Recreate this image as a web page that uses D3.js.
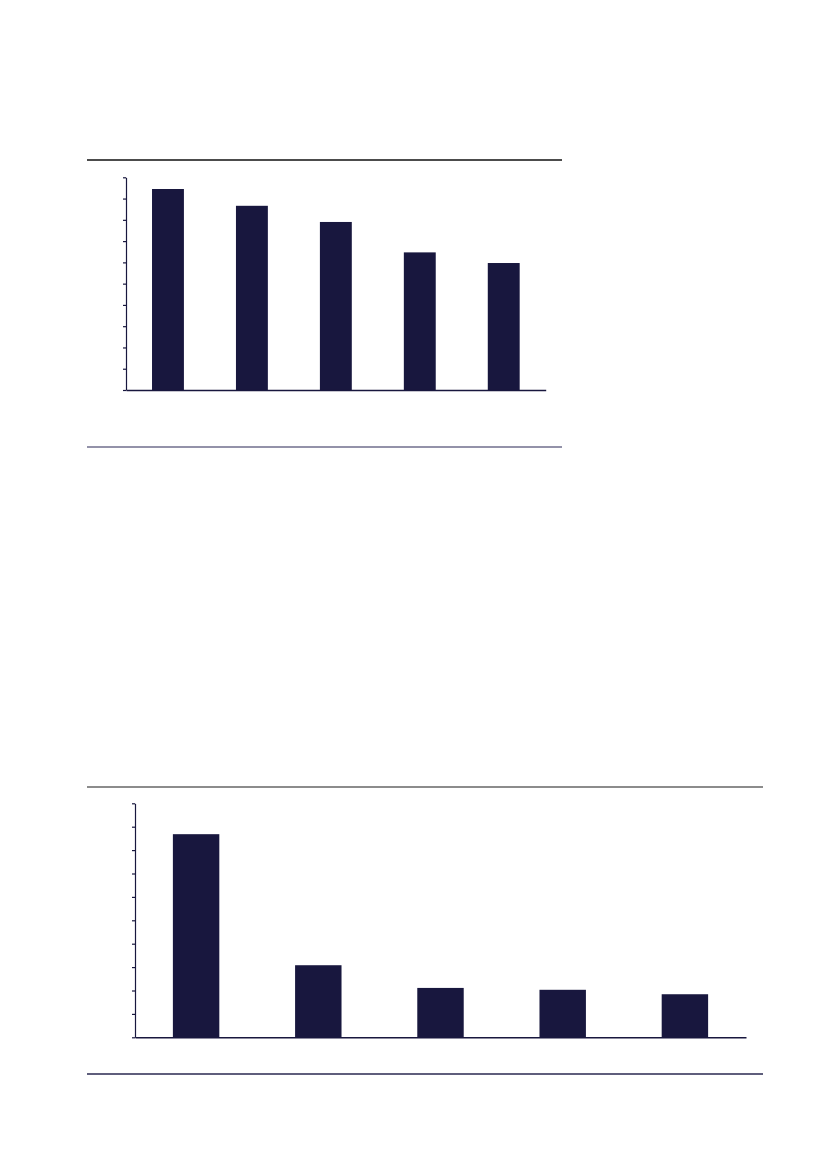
<!DOCTYPE html>
<html>
<head>
<meta charset="utf-8">
<script src="https://cdn.jsdelivr.net/npm/d3@7"></script>
<style>
html,body{margin:0;padding:0;background:#fff;}
svg{display:block;}
</style>
</head>
<body>
<svg id="c" width="827" height="1169"></svg>
<script>
// Top chart data (values in tick units, axis 0-10)
const topCategories = ["A", "B", "C", "D", "E"];
const topValues = [9.45, 8.66, 7.9, 6.47, 5.97];
// Bottom chart data
const bottomCategories = ["A", "B", "C", "D", "E"];
const bottomValues = [8.68, 3.08, 2.11, 2.03, 1.84];
const yTicks = [0, 1, 2, 3, 4, 5, 6, 7, 8, 9, 10];

const svg = d3.select("#c");
const barColor = "#18173e";

function drawChart(cfg) {
  const g = svg.append("g");
  // rules
  g.append("line").attr("x1", cfg.ruleX0).attr("x2", cfg.ruleX1)
    .attr("y1", cfg.ruleTop).attr("y2", cfg.ruleTop)
    .attr("stroke", cfg.ruleTopColor).attr("stroke-width", 1.3);
  g.append("line").attr("x1", cfg.ruleX0).attr("x2", cfg.ruleX1)
    .attr("y1", cfg.ruleBottom).attr("y2", cfg.ruleBottom)
    .attr("stroke", cfg.ruleBottomColor).attr("stroke-width", 1.3);

  const x = d3.scaleBand().domain(cfg.categories)
    .range([cfg.left, cfg.right]).paddingInner(0.62).paddingOuter(0.31);
  const y = d3.scaleLinear().domain([0, 10]).range([cfg.bottom, cfg.top]);

  g.selectAll("rect.bar").data(cfg.values).enter().append("rect")
    .attr("class", "bar")
    .attr("x", (d, i) => x(cfg.categories[i]))
    .attr("width", x.bandwidth())
    .attr("y", d => y(d))
    .attr("height", d => y(0) - y(d))
    .attr("fill", barColor);

  const yAxis = d3.axisLeft(y).tickValues(yTicks).tickFormat("").tickSizeInner(3).tickSizeOuter(0);
  const ya = g.append("g").attr("transform", `translate(${cfg.left},0)`).call(yAxis);
  ya.selectAll("path,line").attr("stroke", barColor).attr("stroke-width", 1.2);

  const xAxis = d3.axisBottom(x).tickSize(0).tickFormat("");
  const xa = g.append("g").attr("transform", `translate(0,${cfg.bottom})`).call(xAxis);
  xa.select("path").attr("stroke", barColor).attr("stroke-width", 1.4);
}

drawChart({
  categories: topCategories, values: topValues,
  left: 126, right: 545.7, top: 177.3, bottom: 390,
  ruleX0: 87, ruleX1: 562, ruleTop: 160, ruleBottom: 447,
  ruleTopColor: "#111111", ruleBottomColor: "#6f6e8c"
});

drawChart({
  categories: bottomCategories, values: bottomValues,
  left: 135, right: 746, top: 803.3, bottom: 1037.3,
  ruleX0: 87, ruleX1: 763, ruleTop: 787, ruleBottom: 1074,
  ruleTopColor: "#666666", ruleBottomColor: "#2a2950"
});
</script>
</body>
</html>
